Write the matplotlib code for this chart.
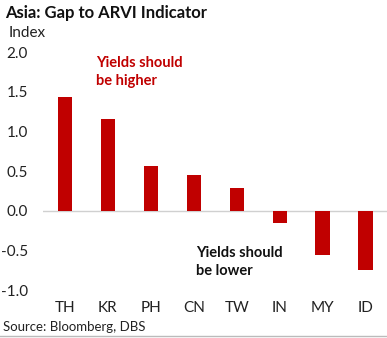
import matplotlib.pyplot as plt
import numpy as np

plt.rcParams['font.family'] = ['Lato', 'DejaVu Sans']

# gap to ARVI indicator by market
pays = ['TH', 'KR', 'PH', 'CN', 'TW', 'IN', 'MY', 'ID']
gap = [1.43, 1.15, 0.56, 0.45, 0.29, -0.15, -0.56, -0.75]
yticks = [-1.0, -0.5, 0.0, 0.5, 1.0, 1.5, 2.0]

fig = plt.figure(figsize=(3.87, 3.38), dpi=100)
ax = fig.add_axes([0.112, 0.142, 0.888, 0.704])

x = np.arange(len(pays))
ax.bar(x, gap, width=0.33, color='#C00000', zorder=3)
ax.axhline(0, color='#D0D0D0', lw=1, zorder=2)

ax.set_xlim(-0.5, len(pays) - 0.5)
ax.set_ylim(-1.0, 2.0)
ax.set_yticks(yticks)
ax.set_yticklabels(['%.1f' % v for v in yticks], fontsize=11, color='#222222')
ax.set_xticks(x)
ax.set_xticklabels(pays, fontsize=11, color='#222222')
ax.tick_params(length=0)
ax.tick_params(axis='y', pad=11)
ax.tick_params(axis='x', pad=8)
for s in ax.spines.values():
    s.set_visible(False)

fig.text(0.013, 0.962, 'Asia: Gap to ARVI Indicator', fontsize=12, fontweight='bold',
         color='#111111', va='center')
fig.text(0.023, 0.902, 'Index', fontsize=11, color='#222222', va='center')
ax.text(0.72, 1.95, 'Yields should\nbe higher', fontsize=10.5, fontweight='bold',
        color='#C00000', va='top', linespacing=1.35)
ax.text(3.05, -0.45, 'Yields should\nbe lower', fontsize=10.5, fontweight='bold',
        color='#111111', va='top', linespacing=1.35)
fig.text(0.008, 0.032, 'Source: Bloomberg, DBS', fontsize=9.5, color='#222222', va='center')
fig.add_artist(plt.Line2D([0, 1], [0.006, 0.006], color='#BBBBBB', lw=1))

fig.savefig('out.png', dpi=100)
